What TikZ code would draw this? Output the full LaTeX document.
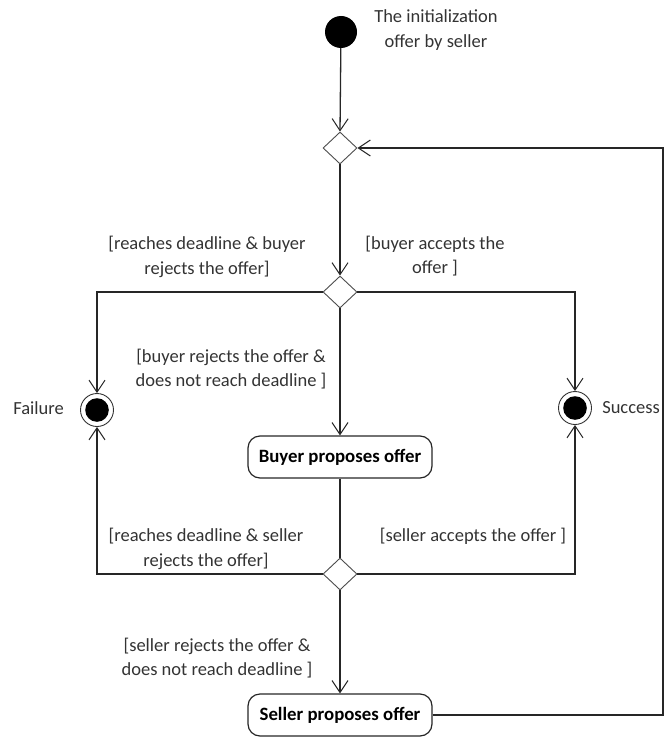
\documentclass[tikz,border=0pt]{standalone}
\usepackage{fontspec}
\setmainfont{Carlito}
\usetikzlibrary{arrows.meta,shapes.geometric}
\begin{document}
\begin{tikzpicture}[x=1pt,y=-1pt,
  lbl/.style={font=\fontsize{18.5}{24.5}\selectfont, align=center, text=black!80, inner sep=0pt},
  act/.style={draw=black!85, rounded corners=12pt, line width=1.2pt, minimum width=184pt, minimum height=42pt, inner sep=2pt, font=\bfseries\fontsize{18.8}{20}\selectfont},
  dec/.style={diamond, draw=black!70, minimum width=34pt, minimum height=32pt, inner sep=0pt, line width=0.9pt, fill=white},
  final/.style={circle, draw=black!80, line width=0.9pt, minimum size=33pt, inner sep=0pt, fill=white, path picture={\fill[black] (path picture bounding box.center) circle (11.8pt);}},
  flow/.style={line width=1.3pt, draw=black!85},
  arr/.style={flow, -{Straight Barb[length=12pt,width=16pt,line width=1pt]}}]
\useasboundingbox (0,0) rectangle (665,741);
\node[circle, fill=black, minimum size=32pt, inner sep=0pt] (start) at (341,32) {};
\node[lbl] (initlbl) at (436,30) {The initialization\\offer by seller};
\node[dec] (d1) at (340,148) {};
\node[dec] (d2) at (340,292) {};
\node[dec] (d3) at (340,574) {};
\node[final] (fail) at (97,410) {};
\node[final] (succ) at (575,408) {};
\node[act] (buyer) at (340,457) {Buyer proposes offer};
\node[act] (seller) at (340,715) {Seller proposes offer};
\coordinate (rc) at (663,715);
\node[lbl, anchor=east] (faillbl) at (64,408) {Failure};
\node[lbl, anchor=east] (succlbl) at (660,408) {Success};
\node[lbl] (l1) at (207,257) {[reaches deadline \& buyer\\rejects the offer]};
\node[lbl] (l2) at (435,256) {[buyer accepts the\\offer ]};
\node[lbl] (l3) at (231,369) {[buyer rejects the offer \&\\does not reach deadline ]};
\node[lbl] (l4) at (206,549) {[reaches deadline \& seller\\rejects the offer]};
\node[lbl] (l5) at (473,536) {[seller accepts the offer ]};
\node[lbl] (l6) at (217,658) {[seller rejects the offer \&\\does not reach deadline ]};
\draw[arr] (start) -- (d1.north);
\draw[arr] (d1.south) -- (d2.north);
\draw[arr] (d2.west) -| (fail.north);
\draw[arr] (d2.east) -| (succ.north);
\draw[arr] (d2.south) -- (buyer.north);
\draw[flow] (buyer.south) -- (d3.north);
\draw[arr] (d3.west) -| (fail.south);
\draw[arr] (d3.east) -| (succ.south);
\draw[arr] (d3.south) -- (seller.north);
\draw[arr] (seller.east) -- (rc) |- (d1.east);
\end{tikzpicture}
\end{document}
